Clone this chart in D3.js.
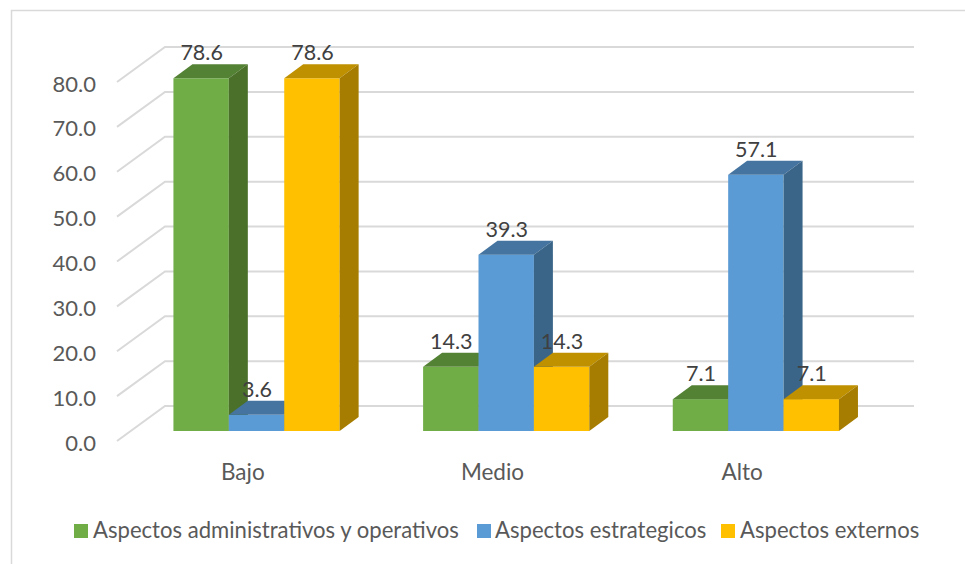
<!DOCTYPE html>
<html><head><meta charset="utf-8">
<script src="https://cdn.jsdelivr.net/npm/d3@7/dist/d3.min.js"></script>
<style>
html,body{margin:0;padding:0;background:#fff}
svg{display:block}
text{font-family:Lato,"Open Sans",sans-serif}
</style></head><body>
<svg id="c" width="965" height="564"></svg>
<script>
const categories = ["Bajo","Medio","Alto"];
const seriesNames = ["Aspectos administrativos y operativos","Aspectos estrategicos","Aspectos externos"];
const adminValues = [78.6,14.3,7.1];
const estrategicosValues = [3.6,39.3,57.1];
const externosValues = [78.6,14.3,7.1];
const yTicks = [0,10,20,30,40,50,60,70,80];
const frontColors = ["#70AD47","#5B9BD5","#FFC000"];
const topColors = ["#548235","#44749F","#BF9000"];
const sideColors = ["#4A7029","#3A6589","#A67D00"];

const svg = d3.select("#c");
const series = [adminValues,estrategicosValues,externosValues];
const x = d3.scaleBand().domain(categories).range([117,866]);
const y = d3.scaleLinear().domain([0,80]).range([441,82]);
const floorDX=48, floorDY=-35;     // full floor depth
const barOffX=15, barOffY=-10;     // bars stand inside the floor
const depthX=19, depthY=-14;       // bar depth
const barW=55.4;

// frame
svg.append("path").attr("d","M11.5,564V10.5H965").attr("fill","none").attr("stroke","#D9D9D9").attr("stroke-width",1.5);

// gridlines
const grid = svg.append("g").attr("fill","none").attr("stroke","#D9D9D9").attr("stroke-width",2);
yTicks.forEach(t=>{
  grid.append("path").attr("d",d3.line()([[117,y(t)],[117+floorDX,y(t)+floorDY],[866+floorDX,y(t)+floorDY]]));
});

// bars
const plot = svg.append("g");
categories.forEach((c,ci)=>{
  const cx = x(c)+x.bandwidth()/2+barOffX-0.3;
  series.forEach((vals,si)=>{
    const v=vals[ci];
    const x0=cx-barW*1.5+si*barW, x1=x0+barW;
    const y0=y(0)+barOffY, yt=y(v)+barOffY;
    const g=plot.append("g");
    g.append("rect").attr("x",x0).attr("y",yt).attr("width",barW).attr("height",y0-yt).attr("fill",frontColors[si]);
    g.append("polygon").attr("points",[[x0,yt],[x1,yt],[x1+depthX,yt+depthY],[x0+depthX,yt+depthY]].join(" ")).attr("fill",topColors[si]);
    g.append("polygon").attr("points",[[x1,yt],[x1+depthX,yt+depthY],[x1+depthX,y0+depthY],[x1,y0]].join(" ")).attr("fill",sideColors[si]);
  });
});
// data labels
categories.forEach((c,ci)=>{
  const cx = x(c)+x.bandwidth()/2+barOffX-0.3;
  series.forEach((vals,si)=>{
    const v=vals[ci];
    const x0=cx-barW*1.5+si*barW;
    svg.append("text").attr("x",x0+barW/2+0.5).attr("y",y(v)+barOffY+depthY-4)
      .attr("text-anchor","middle").attr("font-size",21.5).attr("fill","#404040").text(v.toFixed(1));
  });
});

// axes
const yAxis = svg.append("g").attr("transform","translate(96,2)")
  .call(d3.axisLeft(y).tickValues(yTicks).tickFormat(d3.format(".1f")).tickSize(0).tickPadding(0));
yAxis.select(".domain").remove();
yAxis.selectAll("text").attr("font-size",22).attr("fill","#595959").style("font-family","Lato,'Open Sans',sans-serif");

const xAxis = svg.append("g").attr("transform","translate(1,464)")
  .call(d3.axisBottom(x).tickSize(0).tickPadding(0));
xAxis.select(".domain").remove();
xAxis.selectAll("text").attr("font-size",22.5).attr("fill","#595959").style("font-family","Lato,'Open Sans',sans-serif");

// legend
const legendX=[74,477,721], textX=[93,495,740];
seriesNames.forEach((n,i)=>{
  svg.append("rect").attr("x",legendX[i]).attr("y",524).attr("width",14).attr("height",14).attr("fill",frontColors[i]);
  svg.append("text").attr("x",textX[i]).attr("y",538).attr("font-size",22.1).attr("fill","#595959").text(n);
});
</script>
</body></html>
